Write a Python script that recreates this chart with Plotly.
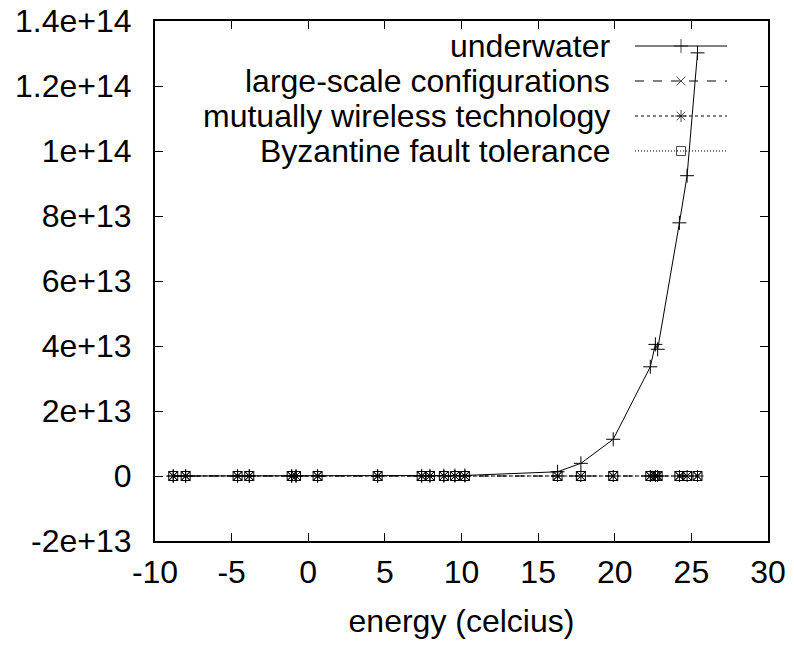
import plotly.graph_objects as go

# ---- data ----
energy = [-8.81, -8.0, -4.61, -3.85, -1.08, -0.8, 0.61, 4.53, 7.4, 7.94, 8.85,
          9.57, 10.22, 16.27, 17.79, 19.9, 22.32, 22.65, 22.8, 24.22, 24.72, 25.4]
underwater = [1e7, 2e7, 1e8, 2e8, 1e9, 1.5e9, 3e9, 1.5e10, 5e10, 6e10, 9e10,
              1.2e11, 1.7e11, 1.3e12, 3.9e12, 1.13e13, 3.36e13, 4.05e13, 3.9e13,
              7.79e13, 9.24e13, 1.302e14]
large_scale = [0.0] * 22
mutually_wireless = [0.0] * 22
byzantine = [0.0] * 22

series_names = ["underwater", "large-scale configurations",
                "mutually wireless technology", "Byzantine fault tolerance"]
series_values = [underwater, large_scale, mutually_wireless, byzantine]

x_ticks = [-10, -5, 0, 5, 10, 15, 20, 25, 30]
x_tick_labels = ["-10", "-5", "0", "5", "10", "15", "20", "25", "30"]
y_ticks = [-2e13, 0, 2e13, 4e13, 6e13, 8e13, 1e14, 1.2e14, 1.4e14]
y_tick_labels = ["-2e+13", "0", "2e+13", "4e+13", "6e+13", "8e+13",
                 "1e+14", "1.2e+14", "1.4e+14"]

# ---- styles ----
dashes = ["solid", "dash", "dot", "1px,2px"]
symbols = ["cross-thin-open", "x-thin-open", "asterisk-open", "square-open"]
sizes = [10, 9, 10, 9]

FONT = "Liberation Sans, Arial, sans-serif"
FS = 32

fig = go.Figure()
for name, vals, dash, sym, sz in zip(series_names, series_values, dashes, symbols, sizes):
    fig.add_trace(go.Scatter(
        x=energy, y=vals, mode="lines+markers", name=name, showlegend=False,
        line=dict(color="black", width=1, dash=dash),
        marker=dict(symbol=sym, size=sz, color="black", line=dict(color="black", width=1)),
    ))

# gnuplot-style key (text right, sample right) on a pixel overlay axis
key_rows = [46, 81, 116, 151]
for name, dash, sym, sz, yy in zip(series_names, dashes, symbols, sizes, key_rows):
    fig.add_trace(go.Scatter(
        x=[635, 681, 727], y=[yy, yy, yy], xaxis="x2", yaxis="y2",
        mode="lines+markers", showlegend=False, hoverinfo="skip",
        line=dict(color="black", width=1, dash=dash),
        marker=dict(symbol=sym, size=[0, sz, 0], color="black",
                    line=dict(color="black", width=1)),
    ))
    fig.add_annotation(x=612, y=yy, xref="x2", yref="y2", text=name,
                       showarrow=False, xanchor="right", yanchor="middle",
                       font=dict(family=FONT, size=FS, color="black"))

fig.update_layout(
    width=794, height=648,
    margin=dict(l=155, r=26, t=21, b=107, autoexpand=False),
    paper_bgcolor="white", plot_bgcolor="white",
    font=dict(family=FONT, size=FS, color="black"),
    xaxis=dict(range=[-10, 30], tickvals=x_ticks, ticktext=x_tick_labels,
               ticks="inside", ticklen=8, automargin=False,
               tickcolor="black", tickwidth=1, mirror="allticks", showline=True,
               linecolor="black", linewidth=2, showgrid=False, zeroline=False,
               ticklabelstandoff=2,
               title=dict(text="energy (celcius)", standoff=20,
                          font=dict(family=FONT, size=FS))),
    yaxis=dict(range=[-2e13, 1.4e14], tickvals=y_ticks, ticktext=y_tick_labels,
               ticks="inside", ticklen=8, tickcolor="black", tickwidth=1,
               automargin=False,
               mirror="allticks", showline=True, linecolor="black", linewidth=2,
               showgrid=False, zeroline=False, ticklabelstandoff=15),
    xaxis2=dict(range=[155, 768], overlaying="x", visible=False, fixedrange=True),
    yaxis2=dict(range=[541, 21], overlaying="y", visible=False, fixedrange=True),
)

fig.write_html("out.html", config={"displayModeBar": False},
               post_script="document.body.style.margin='0';")
